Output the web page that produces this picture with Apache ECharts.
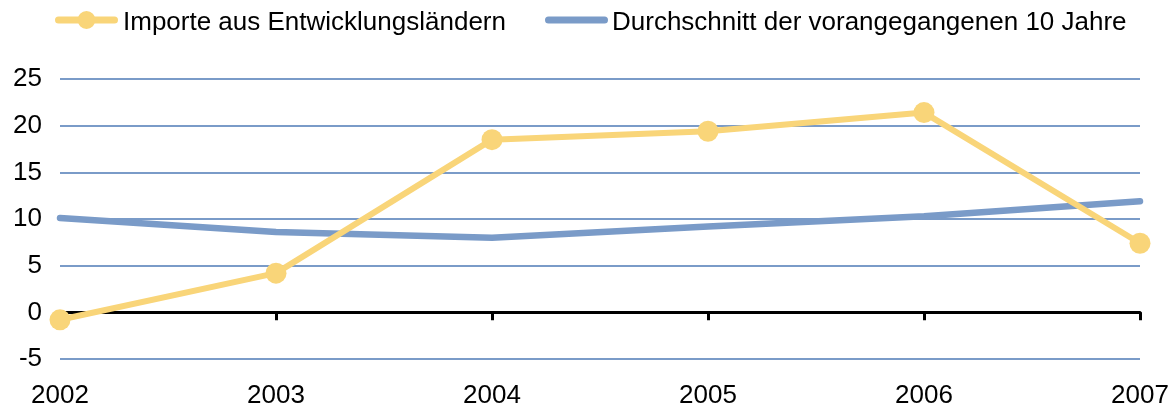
<!DOCTYPE html>
<html>
<head>
<meta charset="utf-8">
<script src="https://cdn.jsdelivr.net/npm/echarts@6/dist/echarts.min.js"></script>
<style>
  html, body { margin: 0; padding: 0; background: #fff; }
  #chart { width: 1176px; height: 412px; }
</style>
</head>
<body>
<div id="chart"></div>
<script>
// Years on the category axis
const years = ['2002', '2003', '2004', '2005', '2006', '2007'];
// Import growth from developing countries (%)
const importe = [-0.8, 4.2, 18.5, 19.4, 21.4, 7.4];
// Average of the preceding ten years (%)
const durchschnitt = [10.1, 8.6, 8.0, 9.2, 10.3, 11.9];

const seriesNames = ['Importe aus Entwicklungsländern', 'Durchschnitt der vorangegangenen 10 Jahre'];
const yellow = '#f9d579';
const blue = '#7a9bc8';
const font = 'Liberation Sans, Arial, sans-serif';
const fs = 26;

// Legend glyphs in a 63 x 24 box; the empty point at the bottom keeps the
// visible part a little above the text's centre line.
const lineMarkerIcon = 'path://M3.5,5.5 L59.5,5.5 A3.5,3.5 0 0 1 59.5,12.5 L3.5,12.5 A3.5,3.5 0 0 1 3.5,5.5 Z ' +
  'M22.5,9 A9,9 0 1 1 40.5,9 A9,9 0 1 1 22.5,9 Z M31.5,24 L31.51,24 Z';
const lineIcon = 'path://M3.5,5.5 L59.5,5.5 A3.5,3.5 0 0 1 59.5,12.5 L3.5,12.5 A3.5,3.5 0 0 1 3.5,5.5 Z ' +
  'M31.5,0 L31.51,0 Z M31.5,24 L31.51,24 Z';

const chart = echarts.init(document.getElementById('chart'));
chart.setOption({
  animation: false,
  backgroundColor: '#fff',
  textStyle: { fontFamily: font },
  legend: [
    {
      data: [{ name: seriesNames[0], icon: lineMarkerIcon }],
      left: 50, top: 5,
      itemWidth: 63, itemHeight: 24,
      textStyle: { fontSize: fs, color: '#000', fontFamily: font }
    },
    {
      data: [{ name: seriesNames[1], icon: lineIcon }],
      left: 540, top: 5,
      itemWidth: 63, itemHeight: 24,
      textStyle: { fontSize: fs, color: '#000', fontFamily: font, padding: [0, 0, 0, -1] }
    }
  ],
  grid: { left: 60, right: 36, top: 79, bottom: 53, containLabel: false },
  xAxis: [
    {
      type: 'category', data: years, boundaryGap: false,
      axisLine: { show: false, onZero: false },
      axisTick: { show: false },
      splitLine: { show: false },
      axisLabel: { fontSize: fs, color: '#000', margin: 24, fontFamily: font }
    },
    {
      type: 'category', data: years, boundaryGap: false,
      position: 'bottom',
      axisLine: { show: true, onZero: true, lineStyle: { color: '#000', width: 3 } },
      axisTick: { show: true, length: 8, lineStyle: { color: '#000', width: 3 } },
      axisLabel: { show: false },
      splitLine: { show: false }
    }
  ],
  yAxis: {
    type: 'value', min: -5, max: 25, interval: 5,
    axisLine: { show: false },
    axisTick: { show: false },
    axisLabel: { fontSize: fs, color: '#000', margin: 18, fontFamily: font },
    splitLine: { show: true, lineStyle: { color: blue, width: 2 } }
  },
  series: [
    {
      name: seriesNames[0], type: 'line', data: importe,
      symbol: 'circle', symbolSize: 21,
      itemStyle: { color: yellow },
      lineStyle: { color: yellow, width: 6 },
      z: 4
    },
    {
      name: seriesNames[1], type: 'line', data: durchschnitt,
      symbol: 'none',
      itemStyle: { color: blue },
      lineStyle: { color: blue, width: 6.5, cap: 'round' },
      z: 3
    }
  ]
});
</script>
</body>
</html>
